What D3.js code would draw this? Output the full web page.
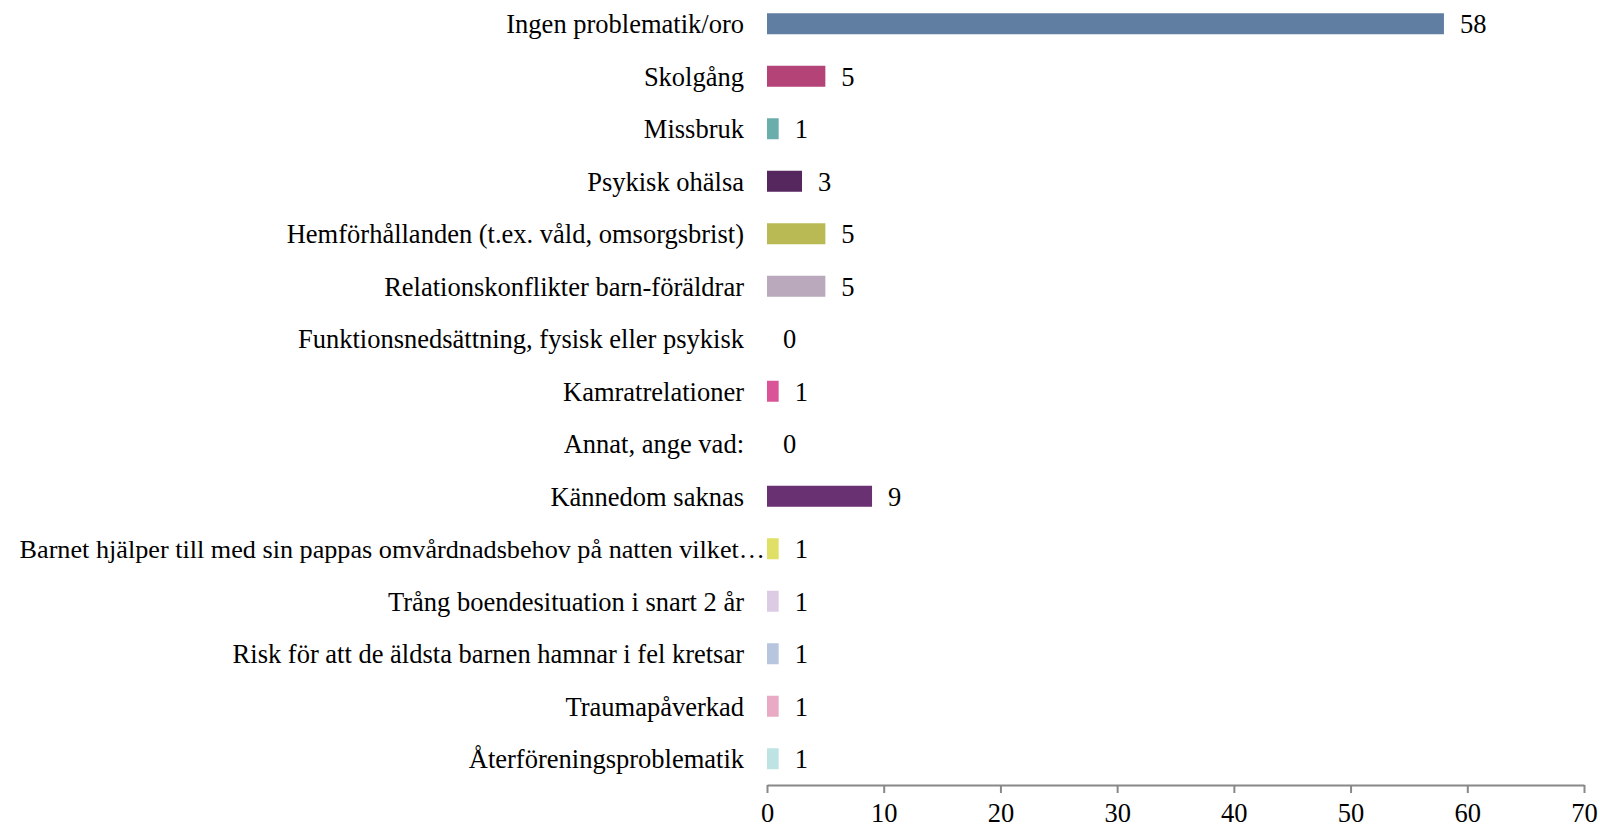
<!DOCTYPE html>
<html>
<head>
<meta charset="utf-8">
<script src="https://cdn.jsdelivr.net/npm/d3@7"></script>
<style>
  html, body { margin: 0; padding: 0; background: #fff; }
  svg { display: block; }
</style>
</head>
<body>
<svg id="chart" width="1600" height="829"></svg>
<script>
const categories = [
  "Ingen problematik/oro",
  "Skolgång",
  "Missbruk",
  "Psykisk ohälsa",
  "Hemförhållanden (t.ex. våld, omsorgsbrist)",
  "Relationskonflikter barn-föräldrar",
  "Funktionsnedsättning, fysisk eller psykisk",
  "Kamratrelationer",
  "Annat, ange vad:",
  "Kännedom saknas",
  "Barnet hjälper till med sin pappas omvårdnadsbehov på natten vilket…",
  "Trång boendesituation i snart 2 år",
  "Risk för att de äldsta barnen hamnar i fel kretsar",
  "Traumapåverkad",
  "Återföreningsproblematik"
];
const values = [58, 5, 1, 3, 5, 5, 0, 1, 0, 9, 1, 1, 1, 1, 1];
const colors = ["#607ea2", "#b44477", "#69aeab", "#56265e", "#baba55", "#baa9bc", "#999999",
                "#d95598", "#999999", "#6a3172", "#e0e066", "#dccbe3", "#b7c6de", "#e8aac5", "#bee3e3"];
const xTicks = [0, 10, 20, 30, 40, 50, 60, 70];

const FONT = "Liberation Serif";
const FS = 26.5;
const svg = d3.select("#chart");
const mLeft = 767, mRight = 1584, mTop = -2.5, axisY = 785;

const x = d3.scaleLinear().domain([0, 70]).range([mLeft, mRight]);
const y = d3.scaleBand().domain(categories).range([mTop, axisY]).paddingInner(0.6).paddingOuter(0.3);

// bars
svg.append("g").selectAll("rect")
  .data(categories)
  .join("rect")
  .attr("x", x(0))
  .attr("y", d => y(d))
  .attr("width", (d, i) => x(values[i]) - x(0))
  .attr("height", y.bandwidth())
  .attr("fill", (d, i) => colors[i]);

// value labels
svg.append("g").selectAll("text")
  .data(categories)
  .join("text")
  .attr("x", (d, i) => x(values[i]) + 16)
  .attr("y", d => y(d) + y.bandwidth() / 2)
  .attr("dy", "0.35em")
  .attr("font-family", FONT)
  .attr("font-size", FS)
  .attr("fill", "#000")
  .text((d, i) => values[i]);

// category labels (truncated label's ellipsis runs up to the bar)
svg.append("g").selectAll("text")
  .data(categories)
  .join("text")
  .attr("x", d => d.endsWith("…") ? mLeft - 2 : mLeft - 23)
  .attr("y", d => y(d) + y.bandwidth() / 2)
  .attr("dy", "0.35em")
  .attr("text-anchor", "end")
  .attr("font-family", FONT)
  .attr("font-size", d => d.endsWith("…") ? FS - 0.3 : FS)
  .attr("fill", "#000")
  .text(d => d);

// x axis
const ax = svg.append("g")
  .attr("transform", `translate(0,${axisY})`)
  .call(d3.axisBottom(x).tickValues(xTicks).tickSize(8).tickPadding(10).tickSizeOuter(0));
ax.attr("font-family", FONT).attr("font-size", FS);
ax.select(".domain").attr("stroke", "#888").attr("stroke-width", 2);
ax.selectAll(".tick line").attr("stroke", "#888").attr("stroke-width", 2);
ax.selectAll(".tick text").attr("font-family", FONT).attr("font-size", FS).attr("fill", "#000");
</script>
</body>
</html>
